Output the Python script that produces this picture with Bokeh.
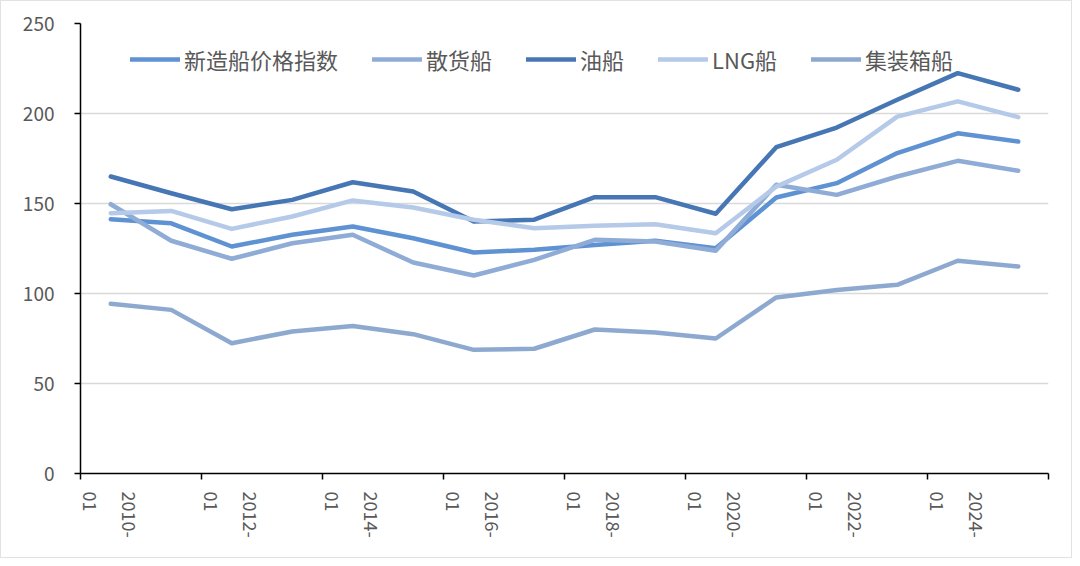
import math
from bokeh.plotting import figure
from bokeh.models import Range1d, FixedTicker, Legend, LegendItem
from bokeh.embed import file_html
from bokeh.resources import INLINE

periods = ["2010-01", "2011-01", "2012-01", "2013-01", "2014-01", "2015-01", "2016-01", "2017-01",
           "2018-01", "2019-01", "2020-01", "2021-01", "2022-01", "2023-01", "2024-01", "2025-01"]
y_ticks = [0, 50, 100, 150, 200, 250]

series_names = ["新造船价格指数", "散货船", "油船", "LNG船", "集装箱船"]
newbuild = [141.3, 139.0, 126.1, 132.6, 137.2, 130.7, 122.8, 124.3, 127.0, 129.3, 125.2, 153.3, 161.3, 178.0, 189.0, 184.4]
bulk = [149.6, 129.3, 119.3, 127.9, 132.6, 117.2, 110.0, 118.7, 129.8, 128.9, 123.7, 160.4, 154.8, 165.0, 173.7, 168.2]
tanker = [165.0, 155.7, 146.8, 152.0, 161.8, 156.7, 140.0, 141.0, 153.5, 153.5, 144.3, 181.3, 192.2, 207.6, 222.4, 213.2]
lng = [144.6, 145.9, 135.9, 142.8, 151.7, 147.8, 141.0, 136.3, 137.6, 138.5, 133.5, 159.4, 174.3, 198.3, 206.7, 198.0]
container = [94.3, 90.9, 72.4, 78.9, 82.0, 77.4, 68.7, 69.3, 80.0, 78.3, 75.0, 97.8, 102.0, 104.8, 118.2, 115.0]

colors = ["#5e92d2", "#8eacd5", "#4677b4", "#b5c9e8", "#8ea9cf"]
all_series = [newbuild, bulk, tanker, lng, container]

n = len(periods)
xs = [i + 0.5 for i in range(n)]
label_pos = [i + 0.5 for i in range(0, n, 2)]
label_text = {i + 0.5: periods[i].replace("-", "-\n") for i in range(0, n, 2)}
tick_pos = [float(i) for i in range(0, n + 1, 2)]

FONT = "Noto Sans CJK SC"
GREY = "#595959"

p = figure(width=1072, height=558, x_range=Range1d(0, n), y_range=Range1d(0, 250),
           output_backend="svg", toolbar_location=None,
           min_border_left=79, min_border_right=25, min_border_top=22, min_border_bottom=86)
p.outline_line_color = None
p.background_fill_color = "white"
p.border_fill_color = "white"
p.styles = {"border": "1px solid #e2e2e2"}

xa = p.xaxis[0]
xa.ticker = FixedTicker(ticks=label_pos, minor_ticks=tick_pos)
xa.major_label_overrides = label_text
xa.major_label_orientation = -math.pi / 2
xa.major_tick_line_color = None
xa.minor_tick_line_color = "black"
xa.minor_tick_line_width = 1.5
xa.minor_tick_out = 6
xa.minor_tick_in = 0
xa.axis_line_color = "black"
xa.axis_line_width = 1.5
xa.major_label_text_font = FONT
xa.major_label_text_font_size = "18px"
xa.major_label_text_line_height = 1.5
xa.major_label_text_color = GREY
xa.major_label_standoff = 12

ya = p.yaxis[0]
ya.ticker = FixedTicker(ticks=y_ticks, minor_ticks=[])
ya.major_tick_line_color = "black"
ya.major_tick_line_width = 1.5
ya.major_tick_out = 6
ya.major_tick_in = 0
ya.minor_tick_line_color = None
ya.axis_line_color = "black"
ya.axis_line_width = 1.5
ya.major_label_text_font = FONT
ya.major_label_text_font_size = "19px"
ya.major_label_text_color = GREY
ya.major_label_standoff = 20

p.xgrid.grid_line_color = None
p.ygrid.ticker = FixedTicker(ticks=y_ticks)
p.ygrid.grid_line_color = "#d9d9d9"
p.ygrid.grid_line_width = 1.5

items = []
for name, vals, col in zip(series_names, all_series, colors):
    r = p.line(xs, vals, line_color=col, line_width=4.5, line_join="round", line_cap="round")
    items.append(LegendItem(label=name, renderers=[r]))

legend = Legend(items=items, orientation="horizontal", location=(50, 398),
                glyph_width=50, glyph_height=26, label_height=26, label_standoff=4, spacing=34,
                padding=0, margin=0, border_line_color=None, background_fill_alpha=0,
                label_text_font=FONT, label_text_font_size="22px", label_text_color=GREY)
p.add_layout(legend)

open("out.html", "w").write(file_html(p, INLINE))
